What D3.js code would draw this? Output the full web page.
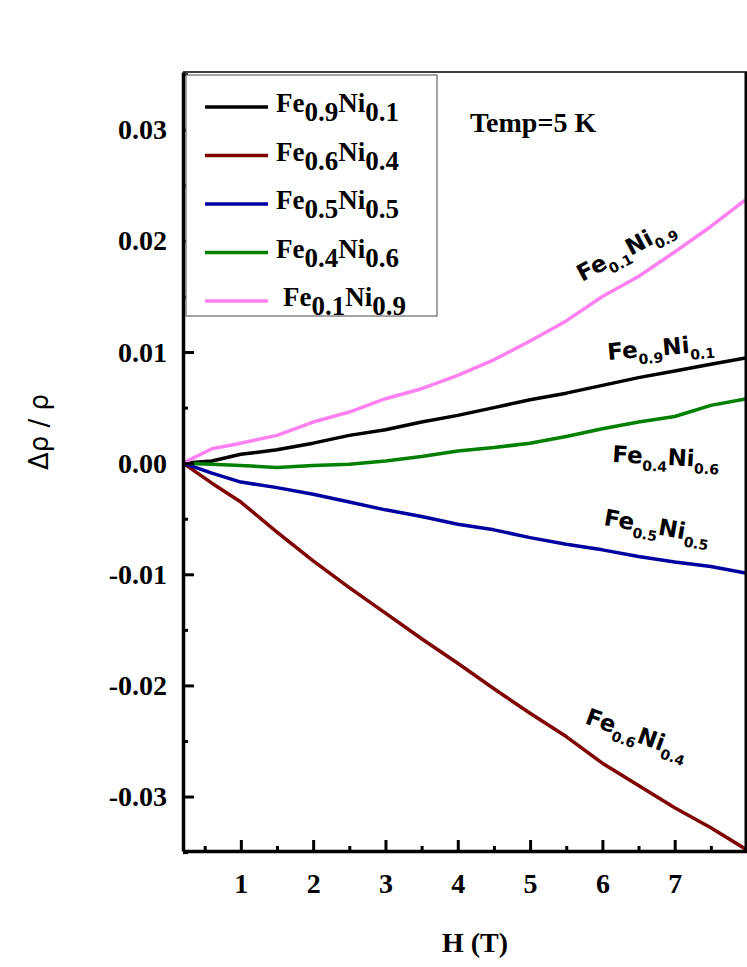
<!DOCTYPE html><html><head><meta charset="utf-8">
<script src="https://cdn.jsdelivr.net/npm/d3@7"></script>
<style>body{margin:0;background:#fff}</style></head><body>
<svg id="c" width="747" height="967"></svg>
<script>
const H = [0.2,0.6,1,1.5,2,2.5,3,3.5,4,4.5,5,5.5,6,6.5,7,7.5,8];
const fe09 = [0,0.0002,0.0008,0.0012,0.0018,0.0025,0.003,0.0037,0.0043,0.005,0.0057,0.0063,0.007,0.0077,0.0083,0.0089,0.0095];
const fe06 = [0,-0.0018,-0.0035,-0.0062,-0.0088,-0.0112,-0.0135,-0.0158,-0.018,-0.0203,-0.0225,-0.0246,-0.027,-0.029,-0.031,-0.0328,-0.0348];
const fe05 = [0,-0.0009,-0.0017,-0.0022,-0.0028,-0.0035,-0.0042,-0.0048,-0.0055,-0.006,-0.0067,-0.0073,-0.0078,-0.0084,-0.0089,-0.0093,-0.0099];
const fe04 = [0,-0.0001,-0.0002,-0.0004,-0.0002,-0.0001,0.0002,0.0006,0.0011,0.0014,0.0018,0.0024,0.0031,0.0037,0.0042,0.0052,0.0058];
const fe01 = [0,0.0013,0.0018,0.0025,0.0037,0.0046,0.0058,0.0067,0.0079,0.0093,0.011,0.0128,0.015,0.0168,0.019,0.0213,0.0238];
const names = [["0.9","0.1"],["0.6","0.4"],["0.5","0.5"],["0.4","0.6"],["0.1","0.9"]];
const colors = ["#000000","#800000","#0000a0","#008000","#ff80f0"];
const series = [fe09,fe06,fe05,fe04,fe01];
const xTicks = [1,2,3,4,5,6,7];
const yTicks = [-0.03,-0.02,-0.01,0,0.01,0.02,0.03];

const svg = d3.select("#c");
const L=183,R=747,T=72,B=851;
const x = d3.scaleLinear().domain([0.2,8.0]).range([L,R]);
const y = d3.scaleLinear().domain([-0.0349,0.0352]).range([B,T]);
const serif = "'Liberation Serif','Times New Roman',serif";
const sans = "'DejaVu Sans',sans-serif";

const line = d3.line().x((d,i)=>x(H[i])).y(d=>y(d));
series.forEach((s,i)=>svg.append("path").attr("d",line(s)).attr("fill","none")
  .attr("stroke",colors[i]).attr("stroke-width",3.5).attr("stroke-linejoin","round"));

svg.append("line").attr("x1",L).attr("x2",R).attr("y1",T).attr("y2",T).attr("stroke","#000").attr("stroke-width",1.5);
svg.append("line").attr("x1",R-1).attr("x2",R-1).attr("y1",T).attr("y2",B).attr("stroke","#000").attr("stroke-width",3);

const xa = svg.append("g").attr("transform",`translate(0,${B})`)
  .call(d3.axisBottom(x).tickValues(xTicks).tickFormat(d3.format("d")).tickSizeInner(-11).tickSizeOuter(0).tickPadding(22));
xa.select(".domain").attr("stroke-width",3.5);
xa.selectAll(".tick line").attr("stroke-width",3);
xa.selectAll("text").attr("font-family",serif).attr("font-weight","bold").attr("font-size",28);
const xm = svg.append("g").attr("transform",`translate(0,${B})`)
  .call(d3.axisBottom(x).tickValues(d3.range(0.5,8,1)).tickFormat("").tickSizeInner(-5).tickSizeOuter(0));
xm.select(".domain").remove(); xm.selectAll(".tick line").attr("stroke-width",3);

const ya = svg.append("g").attr("transform",`translate(${L},0)`)
  .call(d3.axisLeft(y).tickValues(yTicks).tickFormat(d=>d3.format(".2f")(d).replace("−","-")).tickSizeInner(-11).tickSizeOuter(0).tickPadding(16));
ya.select(".domain").attr("stroke-width",3.5);
ya.selectAll(".tick line").attr("stroke-width",3);
ya.selectAll("text").attr("font-family",serif).attr("font-weight","bold").attr("font-size",28);
const ym = svg.append("g").attr("transform",`translate(${L},0)`)
  .call(d3.axisLeft(y).tickValues(d3.range(-0.035,0.035,0.01)).tickFormat("").tickSizeInner(-5).tickSizeOuter(0));
ym.select(".domain").remove(); ym.selectAll(".tick line").attr("stroke-width",3);

svg.append("text").attr("x",(L+R)/2+10).attr("y",952).attr("text-anchor","middle")
  .attr("font-family",serif).attr("font-weight","bold").attr("font-size",28).text("H (T)");
svg.append("text").attr("transform","translate(48,432) rotate(-90)").attr("text-anchor","middle")
  .attr("font-family",sans).attr("font-size",26).text("Δρ / ρ");

const lg = svg.append("g");
lg.append("rect").attr("x",186).attr("y",75).attr("width",251).attr("height",241).attr("fill","#fff").attr("stroke","#666").attr("stroke-width",1.2);
names.forEach((n,i)=>{
  const yy = 107+i*48.5;
  lg.append("line").attr("x1",205).attr("x2",268).attr("y1",yy).attr("y2",yy).attr("stroke",colors[i]).attr("stroke-width",3.5);
  const t = lg.append("text").attr("x",i==4?283:276).attr("y",yy+5).attr("font-family",serif).attr("font-weight","bold").attr("font-size",27);
  t.append("tspan").text("Fe");
  t.append("tspan").attr("dy",9).text(n[0]);
  t.append("tspan").attr("dy",-9).text("Ni");
  t.append("tspan").attr("dy",9).text(n[1]);
});
svg.append("text").attr("x",470).attr("y",132).attr("font-family",serif).attr("font-weight","bold").attr("font-size",28).text("Temp=5 K");

const ann = [[582,282,-28,"0.1","0.9"],[608,360,-5,"0.9","0.1"],[612,462,3,"0.4","0.6"],[603,525,10,"0.5","0.5"],[584,723,20,"0.6","0.4"]];
ann.forEach(a=>{
  const t = svg.append("text").attr("transform",`translate(${a[0]},${a[1]}) rotate(${a[2]})`)
    .attr("font-family",sans).attr("font-weight","bold").attr("font-size",23);
  t.append("tspan").text("Fe");
  t.append("tspan").attr("dy",7).attr("font-size",14).text(a[3]);
  t.append("tspan").attr("dy",-7).text("Ni");
  t.append("tspan").attr("dy",7).attr("font-size",14).text(a[4]);
});
</script></body></html>
